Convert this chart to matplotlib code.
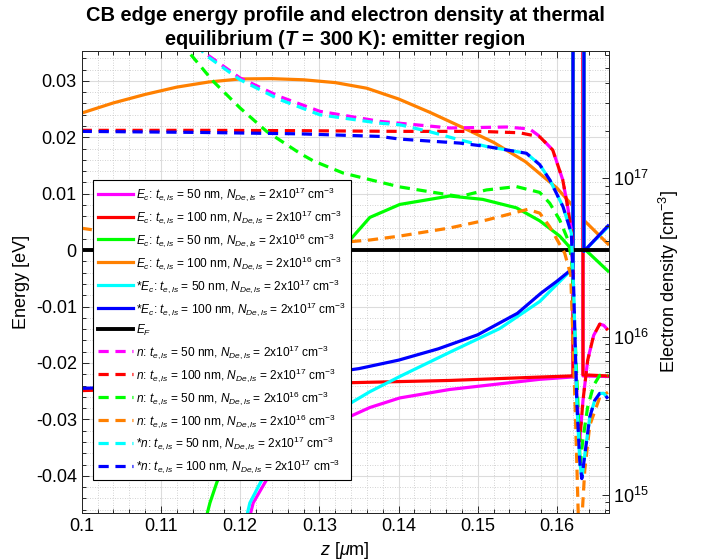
import matplotlib
matplotlib.use('Agg')
import matplotlib.pyplot as plt
from matplotlib.ticker import MultipleLocator, LogLocator, NullFormatter, FuncFormatter

plt.rcParams.update({
    'font.family': ['Liberation Sans', 'DejaVu Sans'],
    'mathtext.fontset': 'custom',
    'mathtext.rm': 'Liberation Sans',
    'mathtext.it': 'Liberation Sans:italic',
    'mathtext.bf': 'Liberation Sans:bold:italic',
    'axes.unicode_minus': False,
})

# ---------------- data (z in um) ----------------
# conduction-band edge energies [eV] (0.5 eV = barrier, off scale)
ec_mag_z = [0.12111, 0.12165, 0.12334, 0.12628, 0.13006, 0.13385, 0.13637, 0.14015, 0.14646, 0.15277, 0.15782, 0.16181, 0.16202, 0.16202, 0.16328, 0.16328, 0.16643]
ec_mag = [-0.0478, -0.0448, -0.0407, -0.0363, -0.0324, -0.0295, -0.0279, -0.0262, -0.0247, -0.0237, -0.0229, -0.0225, -0.0225, 0.5, 0.5, -0.0223, -0.0224]

ec_red_z = [0.1, 0.11492, 0.13385, 0.14646, 0.15782, 0.16181, 0.16202, 0.16202, 0.16328, 0.16328, 0.16643]
ec_red = [-0.0249, -0.0243, -0.0235, -0.0231, -0.0225, -0.0223, -0.0223, 0.5, 0.5, -0.0221, -0.0223]

ec_grn_z = [0.11533, 0.11619, 0.11703, 0.11997, 0.12375, 0.12754, 0.13069, 0.13343, 0.13637, 0.14015, 0.14646, 0.15062, 0.15488, 0.15782, 0.16034, 0.16181, 0.16202, 0.16202, 0.16340, 0.16340, 0.16643]
ec_grn = [-0.0495, -0.0448, -0.0413, -0.0301, -0.0183, -0.0086, -0.0022, 0.0011, 0.0058, 0.0081, 0.0096, 0.0090, 0.0075, 0.0052, 0.0025, 0.0002, 0.0000, 0.5, 0.5, 0.0003, -0.0037]

ec_org_z = [0.100, 0.104, 0.108, 0.112, 0.116, 0.120, 0.124, 0.128, 0.132, 0.136, 0.140, 0.144, 0.148, 0.152, 0.156, 0.160, 0.16202, 0.16202, 0.1634, 0.1634, 0.16643]
ec_org = [0.0243, 0.0261, 0.0276, 0.0289, 0.0298, 0.03035, 0.0304, 0.0302, 0.0297, 0.0287, 0.0268, 0.0244, 0.0218, 0.0191, 0.0157, 0.0110, 0.0078, 0.5, 0.5, 0.0053, 0.0011]

ec_cyn_z = [0.12073, 0.12123, 0.12275, 0.12628, 0.13006, 0.13385, 0.13637, 0.14015, 0.14646, 0.15277, 0.15782, 0.16181, 0.16202, 0.16202, 0.1634, 0.1634, 0.16643]
ec_cyn = [-0.0478, -0.0448, -0.0407, -0.0351, -0.0308, -0.0272, -0.0251, -0.0224, -0.0181, -0.0139, -0.0091, -0.0035, -0.0033, 0.5, 0.5, -0.0002, 0.0041]

ec_blu_z = [0.100, 0.105, 0.110, 0.115, 0.120, 0.125, 0.130, 0.135, 0.140, 0.145, 0.150, 0.155, 0.158, 0.160, 0.16202, 0.16202, 0.1634, 0.1634, 0.16643]
ec_blu = [-0.0245, -0.0243, -0.0239, -0.0235, -0.0231, -0.0226, -0.0220, -0.0210, -0.0195, -0.0175, -0.0150, -0.0112, -0.0076, -0.0055, -0.0032, 0.5, 0.5, -0.0002, 0.0043]

ef_z = [0.1, 0.1665]
ef = [0.0, 0.0]

# electron densities [cm^-3]
n_mag_z = [0.11432, 0.11555, 0.11997, 0.12502, 0.13006, 0.13763, 0.14646, 0.15365, 0.15655, 0.15782, 0.15946, 0.16072, 0.16135, 0.16186, 0.16211, 0.16249, 0.16287, 0.16328, 0.16387, 0.16463, 0.16539, 0.1659, 0.16643]
n_mag = [7.00e17, 6.19e17, 4.31e17, 3.28e17, 2.65e17, 2.29e17, 2.08e17, 2.11e17, 2.05e17, 1.84e17, 1.51e17, 9.8e16, 6.6e16, 4.52e16, 1.15e16, 4.39e15, 2.21e15, 3.96e15, 7.10e15, 1.02e16, 1.20e16, 1.18e16, 1.10e16]

n_red_z = [0.1, 0.11492, 0.12754, 0.14015, 0.15025, 0.15529, 0.15782, 0.15946, 0.16072, 0.16135, 0.16186, 0.16211, 0.16249, 0.16287, 0.16328, 0.16387, 0.16463, 0.16539, 0.1659, 0.16643]
n_red = [2.01e17, 2.01e17, 2.0e17, 1.98e17, 1.98e17, 1.94e17, 1.83e17, 1.51e17, 9.8e16, 6.6e16, 4.52e16, 1.15e16, 4.39e15, 2.21e15, 3.96e15, 7.10e15, 1.02e16, 1.20e16, 1.18e16, 1.10e16]

n_grn_z = [0.1124, 0.11325, 0.1166, 0.11997, 0.12334, 0.12754, 0.12922, 0.13301, 0.13679, 0.14015, 0.14772, 0.15109, 0.15488, 0.15782, 0.15908, 0.16034, 0.16139, 0.16186, 0.16224, 0.16262, 0.16293, 0.16325, 0.16387, 0.16463, 0.16539, 0.16643]
n_grn = [7.31e17, 6.50e17, 4.10e17, 2.79e17, 1.98e17, 1.44e17, 1.29e17, 1.08e17, 9.70e16, 8.83e16, 7.67e16, 8.45e16, 8.87e16, 8.15e16, 6.97e16, 5.46e16, 4.08e16, 3.05e16, 1.10e16, 3.96e15, 1.54e15, 2.21e15, 3.60e15, 4.93e15, 5.70e15, 5.70e15]

n_org_z = [0.1, 0.10862, 0.11492, 0.1201, 0.12754, 0.13385, 0.13637, 0.14015, 0.14646, 0.15113, 0.1563, 0.15782, 0.15908, 0.16097, 0.16173, 0.16211, 0.16249, 0.16274, 0.16313, 0.1635, 0.16413, 0.16539, 0.16643]
n_org = [4.84e16, 4.20e16, 3.79e16, 3.63e16, 3.74e16, 3.98e16, 4.08e16, 4.32e16, 4.86e16, 5.46e16, 6.37e16, 6.03e16, 4.95e16, 3.37e16, 2.45e16, 7.10e15, 1.65e15, 5.96e14, 6.90e14, 1.43e15, 2.75e15, 4.14e15, 4.46e15]

n_cyn_z = [0.11457, 0.11555, 0.11997, 0.12502, 0.13006, 0.13763, 0.14015, 0.14394, 0.14772, 0.15109, 0.15614, 0.15782, 0.15908, 0.16075, 0.16181, 0.16211, 0.16249, 0.16287, 0.16313, 0.1635, 0.16413, 0.16476, 0.16539, 0.1659, 0.16643]
n_cyn = [7.00e17, 6.05e17, 4.20e17, 3.14e17, 2.52e17, 2.23e17, 2.18e17, 1.97e17, 1.75e17, 1.59e17, 1.44e17, 1.22e17, 9.80e16, 6.64e16, 4.50e16, 1.97e16, 3.96e15, 1.65e15, 1.27e15, 1.78e15, 3.10e15, 3.96e15, 4.38e15, 4.39e15, 4.06e15]

n_blu_z = [0.1, 0.11492, 0.12754, 0.13763, 0.14015, 0.14772, 0.15109, 0.15614, 0.15782, 0.15908, 0.16075, 0.16181, 0.16211, 0.16249, 0.16287, 0.16313, 0.1635, 0.16413, 0.16476, 0.16539, 0.1659, 0.16643]
n_blu = [1.98e17, 1.95e17, 1.91e17, 1.84e17, 1.77e17, 1.67e17, 1.59e17, 1.44e17, 1.22e17, 9.80e16, 6.64e16, 4.50e16, 1.97e16, 3.96e15, 1.65e15, 1.27e15, 1.78e15, 3.10e15, 3.96e15, 4.38e15, 4.39e15, 4.06e15]

colors = {'mag': '#ff00ff', 'red': '#ff0000', 'grn': '#00ff00',
          'org': '#ff8000', 'cyn': '#00ffff', 'blu': '#0000ff'}

def lbl(prefix, t, p):
    return (prefix + r': $t_{e,ls}$ = ' + t + r' nm, $N_{De,ls}$ = 2x10$^{' + p + r'}$ cm$^{-3}$')

# ---------------- figure ----------------
fig = plt.figure(figsize=(7.06, 5.6), dpi=100)
ax = fig.add_axes([0.1157, 0.0839, 0.7462, 0.825])
ax2 = ax.twinx()

LW = 2.3
ec_sets = [(ec_mag_z, ec_mag, 'mag', lbl(r'$E_c$', '50', '17')),
           (ec_red_z, ec_red, 'red', lbl(r'$E_c$', '100', '17')),
           (ec_grn_z, ec_grn, 'grn', lbl(r'$E_c$', '50', '16')),
           (ec_org_z, ec_org, 'org', lbl(r'$E_c$', '100', '16')),
           (ec_cyn_z, ec_cyn, 'cyn', lbl(r'*$E_c$', '50', '17')),
           (ec_blu_z, ec_blu, 'blu', lbl(r'*$E_c$', '100', '17'))]
handles = []
for z, v, c, l in ec_sets:
    h, = ax.plot(z, v, color=colors[c], lw=LW, label=l)
    handles.append(h)
h, = ax.plot(ef_z, ef, color='k', lw=2.8, label=r'$E_F$')
handles.append(h)

n_sets = [(n_mag_z, n_mag, 'mag', lbl(r'$n$', '50', '17')),
          (n_red_z, n_red, 'red', lbl(r'$n$', '100', '17')),
          (n_grn_z, n_grn, 'grn', lbl(r'$n$', '50', '16')),
          (n_org_z, n_org, 'org', lbl(r'$n$', '100', '16')),
          (n_cyn_z, n_cyn, 'cyn', lbl(r'*$n$', '50', '17')),
          (n_blu_z, n_blu, 'blu', lbl(r'*$n$', '100', '17'))]
for z, v, c, l in n_sets:
    h, = ax2.plot(z, v, color=colors[c], lw=LW, dashes=(3.2, 2.1), label=l)
    handles.append(h)

# axes limits / scales
ax.set_xlim(0.1, 0.1665)
ax.set_ylim(-0.0466, 0.0353)
ax2.set_yscale('log')
ax2.set_ylim(7.7e14, 6.37e17)

fmt = FuncFormatter(lambda v, p: f'{round(v, 4):g}')
ax.xaxis.set_major_locator(MultipleLocator(0.01))
ax.xaxis.set_minor_locator(MultipleLocator(0.002))
ax.yaxis.set_major_locator(MultipleLocator(0.01))
ax.yaxis.set_minor_locator(MultipleLocator(0.002))
ax.xaxis.set_major_formatter(fmt)
ax.yaxis.set_major_formatter(fmt)
ax2.yaxis.set_major_locator(LogLocator(base=10))
ax2.yaxis.set_minor_locator(LogLocator(base=10, subs=[2, 3, 4, 5, 6, 7, 8, 9]))
ax2.yaxis.set_minor_formatter(NullFormatter())

axcol = '#262626'
for a in (ax, ax2):
    for s in a.spines.values():
        s.set_color(axcol)
        s.set_linewidth(0.7)
ax.tick_params(which='both', direction='in', top=True, right=False,
               labelsize=13, colors=axcol, labelcolor='k', width=0.7)
ax.tick_params(which='major', length=5)
ax.tick_params(which='minor', length=3)
ax2.tick_params(which='both', direction='in', labelsize=13, colors=axcol,
                labelcolor='k', width=0.7)
ax2.tick_params(which='major', length=5)
ax2.tick_params(which='minor', length=3)

ax.grid(which='major', color='#dcdcdc', lw=0.8)
ax.grid(which='minor', color='#c4c4c4', lw=0.6, ls=(0, (1, 2)))
ax.set_axisbelow(True)

ax.set_xlabel(r'$z$ [$\mu$m]', fontsize=13, labelpad=4)
ax.set_ylabel('Energy [eV]', fontsize=13, labelpad=4)
ax2.set_ylabel(r'Electron density [cm$^{-3}$]', fontsize=13, labelpad=6)
ax.set_title('CB edge energy profile and electron density at thermal\n'
             r'equilibrium ($\mathbf{T}$ = 300 K): emitter region',
             fontsize=14.4, fontweight='bold', pad=3, linespacing=1.2)

leg = ax2.legend(handles, [h.get_label() for h in handles],
                 loc='upper left', bbox_to_anchor=(93 / 706, 1 - 180 / 560),
                 bbox_transform=fig.transFigure, fontsize=8.6, fancybox=False,
                 framealpha=1, edgecolor='k', borderaxespad=0, handlelength=2.95,
                 handletextpad=0.25, labelspacing=0.43, borderpad=0.42)
leg.get_frame().set_linewidth(0.8)

fig.savefig('out.png', dpi=100)
